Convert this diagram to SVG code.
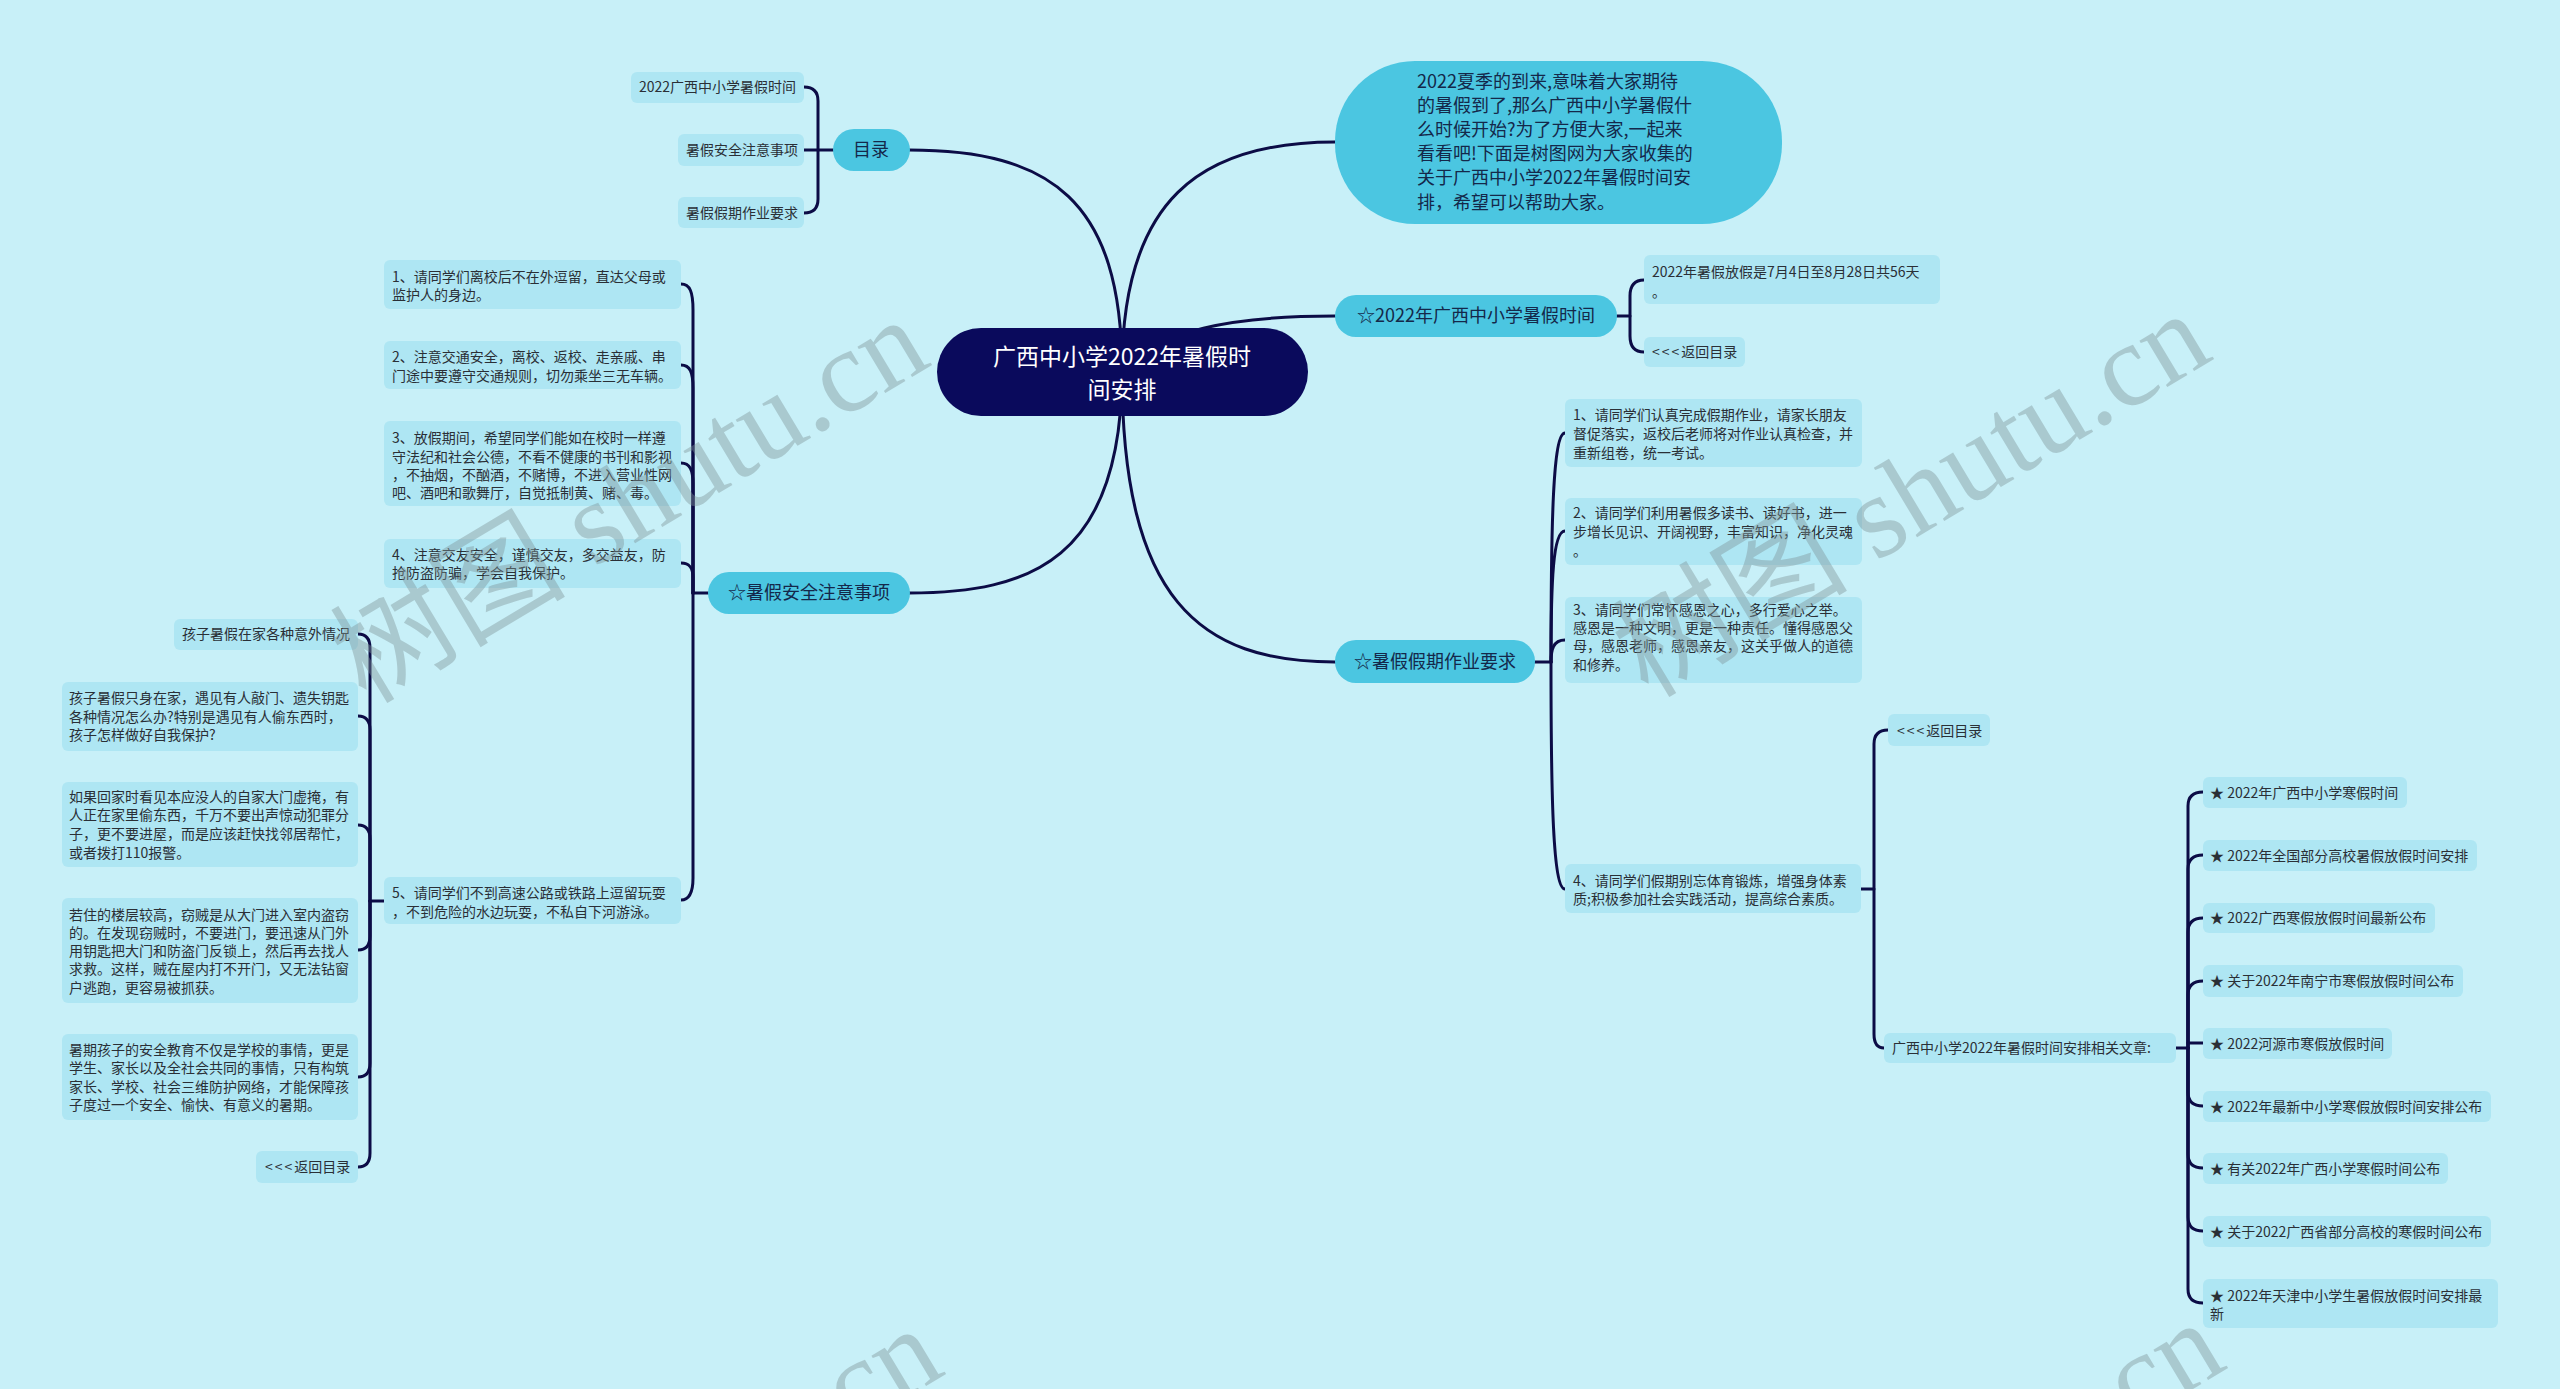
<svg xmlns="http://www.w3.org/2000/svg" width="2560" height="1389" viewBox="0 0 2560 1389">
<style>
.t{font-family:"Noto Sans CJK SC","Noto Sans",sans-serif}
.leaf{fill:#aee6f3}
.lt{font-size:14px;fill:#2a2f36}
.mid{fill:#4bc6e1}
.mt{font-size:18px;fill:#14284a}
.ln{stroke:#0c0c46;stroke-width:3;fill:none;stroke-linecap:round}
.ar{letter-spacing:2px}
.wm{font-family:"Liberation Serif","Noto Sans CJK SC",serif;font-size:118px;fill:#7f9599;opacity:0.42}
</style>
<rect x="0" y="0" width="2560" height="1389" fill="#c8f0f8"/>

<g id="connectors" class="ln">
  <path d="M1122,371 C1122,200 1050,150 909,150"/>
  <path d="M1122,371 C1122,200 1200,142 1335,142"/>
  <path d="M1122,371 C1160,330 1230,316 1335,316"/>
  <path d="M1122,371 C1122,560 1030,593 909,593"/>
  <path d="M1122,371 C1122,600 1200,662 1335,662"/>
  <path d="M833,150 L804,150"/>
  <path d="M804,87 Q818,87 818,101 L818,199 Q818,213 804,213"/>
  <path d="M1617,316 L1630,316"/>
  <path d="M1644,280 Q1630,280 1630,296 L1630,336 Q1630,352 1644,352"/>
  <path d="M708,593 L693,593"/>
  <path d="M681,284 C690,284 693,292 693,310 L693,593"/>
  <path d="M681,365 C690,365 693,372 693,388 L693,593"/>
  <path d="M681,463 C690,463 693,470 693,484 L693,593"/>
  <path d="M681,563 C690,563 693,568 693,578 L693,593"/>
  <path d="M681,900 C690,900 693,892 693,878 L693,593"/>
  <path d="M384,901 L370,901"/>
  <path d="M358,634 Q370,634 370,648 L370,901"/>
  <path d="M358,716 Q370,716 370,730 L370,901"/>
  <path d="M358,825 Q370,825 370,839 L370,901"/>
  <path d="M358,950 Q370,950 370,936 L370,901"/>
  <path d="M358,1077 Q370,1077 370,1063 L370,901"/>
  <path d="M358,1167 Q370,1167 370,1153 L370,901"/>
  <path d="M1535,662 L1551,662"/>
  <path d="M1551,662 C1551,520 1553,433 1565,433"/>
  <path d="M1551,662 C1551,580 1553,531 1565,531"/>
  <path d="M1551,662 C1551,650 1553,640 1565,640"/>
  <path d="M1551,662 C1551,800 1553,889 1565,889"/>
  <path d="M1861,889 L1874,889"/>
  <path d="M1888,730 Q1874,730 1874,744 L1874,1034 Q1874,1048 1884,1048"/>
  <path d="M2176,1048 L2188,1048"/>
  <path d="M2203,792 Q2188,792 2188,806 L2188,1048"/>
  <path d="M2203,855 Q2188,855 2188,869 L2188,1048"/>
  <path d="M2203,918 Q2188,918 2188,932 L2188,1048"/>
  <path d="M2203,981 Q2188,981 2188,995 L2188,1048"/>
  <path d="M2203,1043 L2188,1043"/>
  <path d="M2203,1106 Q2188,1106 2188,1092 L2188,1048"/>
  <path d="M2203,1168 Q2188,1168 2188,1154 L2188,1048"/>
  <path d="M2203,1231 Q2188,1231 2188,1217 L2188,1048"/>
  <path d="M2203,1303 Q2188,1303 2188,1289 L2188,1048"/>
</g>

<g id="central">
  <rect x="937" y="328" width="371" height="88" rx="44" fill="#0a0a5c"/>
  <text class="t" x="1122" y="365" font-size="23" fill="#ffffff" text-anchor="middle">广西中小学2022年暑假时</text>
  <text class="t" x="1122" y="398" font-size="23" fill="#ffffff" text-anchor="middle">间安排</text>
</g>

<g id="summary">
  <rect x="1335" y="61" width="447" height="163" rx="80" class="mid"/>
  <text class="t" font-size="18" fill="#14284a">
    <tspan x="1417" y="88">2022夏季的到来,意味着大家期待</tspan>
    <tspan x="1417" y="112">的暑假到了,那么广西中小学暑假什</tspan>
    <tspan x="1417" y="136">么时候开始?为了方便大家,一起来</tspan>
    <tspan x="1417" y="160">看看吧!下面是树图网为大家收集的</tspan>
    <tspan x="1417" y="184">关于广西中小学2022年暑假时间安</tspan>
    <tspan x="1417" y="209">排，希望可以帮助大家。</tspan>
  </text>
</g>

<g id="mulu">
  <rect x="833" y="129" width="77" height="42" rx="21" class="mid"/>
  <text class="t mt" x="871" y="156" text-anchor="middle">目录</text>
</g>
<g id="mulu-1">
  <rect x="631" y="72" width="173" height="31" rx="6" class="leaf"/>
  <text class="t lt" x="639" y="92">2022广西中小学暑假时间</text>
</g>
<g id="mulu-2">
  <rect x="678" y="134" width="126" height="32" rx="6" class="leaf"/>
  <text class="t lt" x="686" y="155">暑假安全注意事项</text>
</g>
<g id="mulu-3">
  <rect x="678" y="197" width="126" height="31" rx="6" class="leaf"/>
  <text class="t lt" x="686" y="218">暑假假期作业要求</text>
</g>

<g id="time">
  <rect x="1335" y="295" width="282" height="42" rx="21" class="mid"/>
  <text class="t mt" x="1476" y="322" text-anchor="middle">☆2022年广西中小学暑假时间</text>
</g>
<g id="time-1">
  <rect x="1644" y="255" width="296" height="49" rx="6" class="leaf"/>
  <text class="t lt"><tspan x="1652" y="277">2022年暑假放假是7月4日至8月28日共56天</tspan><tspan x="1652" y="297">。</tspan></text>
</g>
<g id="time-2">
  <rect x="1644" y="337" width="101" height="30" rx="6" class="leaf"/>
  <text class="t lt" x="1652" y="357"><tspan class="ar">&lt;&lt;&lt;</tspan>返回目录</text>
</g>

<g id="safety">
  <rect x="708" y="572" width="202" height="42" rx="21" class="mid"/>
  <text class="t mt" x="809" y="599" text-anchor="middle">☆暑假安全注意事项</text>
</g>
<g id="safety-1">
  <rect x="384" y="260" width="297" height="49" rx="6" class="leaf"/>
  <text class="t lt"><tspan x="392" y="282">1、请同学们离校后不在外逗留，直达父母或</tspan><tspan x="392" y="300">监护人的身边。</tspan></text>
</g>
<g id="safety-2">
  <rect x="384" y="341" width="297" height="48" rx="6" class="leaf"/>
  <text class="t lt"><tspan x="392" y="362">2、注意交通安全，离校、返校、走亲戚、串</tspan><tspan x="392" y="381">门途中要遵守交通规则，切勿乘坐三无车辆。</tspan></text>
</g>
<g id="safety-3">
  <rect x="384" y="421" width="297" height="85" rx="6" class="leaf"/>
  <text class="t lt"><tspan x="392" y="443">3、放假期间，希望同学们能如在校时一样遵</tspan><tspan x="392" y="462">守法纪和社会公德，不看不健康的书刊和影视</tspan><tspan x="392" y="480">，不抽烟，不酗酒，不赌博，不进入营业性网</tspan><tspan x="392" y="498">吧、酒吧和歌舞厅，自觉抵制黄、赌、毒。</tspan></text>
</g>
<g id="safety-4">
  <rect x="384" y="539" width="297" height="49" rx="6" class="leaf"/>
  <text class="t lt"><tspan x="392" y="560">4、注意交友安全，谨慎交友，多交益友，防</tspan><tspan x="392" y="578">抢防盗防骗，学会自我保护。</tspan></text>
</g>
<g id="safety-5">
  <rect x="384" y="877" width="297" height="47" rx="6" class="leaf"/>
  <text class="t lt"><tspan x="392" y="898">5、请同学们不到高速公路或铁路上逗留玩耍</tspan><tspan x="392" y="917">，不到危险的水边玩耍，不私自下河游泳。</tspan></text>
</g>
<g id="s5-a">
  <rect x="174" y="619" width="184" height="31" rx="6" class="leaf"/>
  <text class="t lt" x="182" y="639">孩子暑假在家各种意外情况</text>
</g>
<g id="s5-b">
  <rect x="62" y="682" width="296" height="69" rx="6" class="leaf"/>
  <text class="t lt"><tspan x="69" y="703">孩子暑假只身在家，遇见有人敲门、遗失钥匙</tspan><tspan x="69" y="722">各种情况怎么办?特别是遇见有人偷东西时，</tspan><tspan x="69" y="740">孩子怎样做好自我保护?</tspan></text>
</g>
<g id="s5-c">
  <rect x="62" y="782" width="296" height="85" rx="6" class="leaf"/>
  <text class="t lt"><tspan x="69" y="802">如果回家时看见本应没人的自家大门虚掩，有</tspan><tspan x="69" y="820">人正在家里偷东西，千万不要出声惊动犯罪分</tspan><tspan x="69" y="839">子，更不要进屋，而是应该赶快找邻居帮忙，</tspan><tspan x="69" y="858">或者拨打110报警。</tspan></text>
</g>
<g id="s5-d">
  <rect x="62" y="898" width="296" height="105" rx="6" class="leaf"/>
  <text class="t lt"><tspan x="69" y="920">若住的楼层较高，窃贼是从大门进入室内盗窃</tspan><tspan x="69" y="938">的。在发现窃贼时，不要进门，要迅速从门外</tspan><tspan x="69" y="956">用钥匙把大门和防盗门反锁上，然后再去找人</tspan><tspan x="69" y="974">求救。这样，贼在屋内打不开门，又无法钻窗</tspan><tspan x="69" y="993">户逃跑，更容易被抓获。</tspan></text>
</g>
<g id="s5-e">
  <rect x="62" y="1034" width="296" height="86" rx="6" class="leaf"/>
  <text class="t lt"><tspan x="69" y="1055">暑期孩子的安全教育不仅是学校的事情，更是</tspan><tspan x="69" y="1073">学生、家长以及全社会共同的事情，只有构筑</tspan><tspan x="69" y="1092">家长、学校、社会三维防护网络，才能保障孩</tspan><tspan x="69" y="1110">子度过一个安全、愉快、有意义的暑期。</tspan></text>
</g>
<g id="s5-f">
  <rect x="256" y="1151" width="102" height="32" rx="6" class="leaf"/>
  <text class="t lt" x="265" y="1172"><tspan class="ar">&lt;&lt;&lt;</tspan>返回目录</text>
</g>

<g id="homework">
  <rect x="1335" y="640" width="200" height="43" rx="21" class="mid"/>
  <text class="t mt" x="1435" y="668" text-anchor="middle">☆暑假假期作业要求</text>
</g>
<g id="hw-1">
  <rect x="1565" y="399" width="297" height="68" rx="6" class="leaf"/>
  <text class="t lt"><tspan x="1573" y="420">1、请同学们认真完成假期作业，请家长朋友</tspan><tspan x="1573" y="439">督促落实，返校后老师将对作业认真检查，并</tspan><tspan x="1573" y="458">重新组卷，统一考试。</tspan></text>
</g>
<g id="hw-2">
  <rect x="1565" y="498" width="297" height="67" rx="6" class="leaf"/>
  <text class="t lt"><tspan x="1573" y="518">2、请同学们利用暑假多读书、读好书，进一</tspan><tspan x="1573" y="537">步增长见识、开阔视野，丰富知识，净化灵魂</tspan><tspan x="1573" y="556">。</tspan></text>
</g>
<g id="hw-3">
  <rect x="1565" y="597" width="297" height="86" rx="6" class="leaf"/>
  <text class="t lt"><tspan x="1573" y="615">3、请同学们常怀感恩之心，多行爱心之举。</tspan><tspan x="1573" y="633">感恩是一种文明，更是一种责任。懂得感恩父</tspan><tspan x="1573" y="651">母，感恩老师，感恩亲友，这关乎做人的道德</tspan><tspan x="1573" y="670">和修养。</tspan></text>
</g>
<g id="hw-4">
  <rect x="1565" y="864" width="296" height="49" rx="6" class="leaf"/>
  <text class="t lt"><tspan x="1573" y="886">4、请同学们假期别忘体育锻炼，增强身体素</tspan><tspan x="1573" y="904">质;积极参加社会实践活动，提高综合素质。</tspan></text>
</g>
<g id="hw4-back">
  <rect x="1888" y="714" width="102" height="32" rx="6" class="leaf"/>
  <text class="t lt" x="1897" y="736"><tspan class="ar">&lt;&lt;&lt;</tspan>返回目录</text>
</g>
<g id="hw4-related">
  <rect x="1884" y="1033" width="292" height="30" rx="6" class="leaf"/>
  <text class="t lt" x="1892" y="1053">广西中小学2022年暑假时间安排相关文章:</text>
</g>

<g id="art-1"><rect x="2203" y="777" width="204" height="31" rx="6" class="leaf"/><text class="t lt" x="2210" y="798">★ 2022年广西中小学寒假时间</text></g>
<g id="art-2"><rect x="2203" y="840" width="274" height="31" rx="6" class="leaf"/><text class="t lt" x="2210" y="861">★ 2022年全国部分高校暑假放假时间安排</text></g>
<g id="art-3"><rect x="2203" y="903" width="232" height="30" rx="6" class="leaf"/><text class="t lt" x="2210" y="923">★ 2022广西寒假放假时间最新公布</text></g>
<g id="art-4"><rect x="2203" y="965" width="260" height="32" rx="6" class="leaf"/><text class="t lt" x="2210" y="986">★ 关于2022年南宁市寒假放假时间公布</text></g>
<g id="art-5"><rect x="2203" y="1028" width="189" height="31" rx="6" class="leaf"/><text class="t lt" x="2210" y="1049">★ 2022河源市寒假放假时间</text></g>
<g id="art-6"><rect x="2203" y="1091" width="288" height="31" rx="6" class="leaf"/><text class="t lt" x="2210" y="1112">★ 2022年最新中小学寒假放假时间安排公布</text></g>
<g id="art-7"><rect x="2203" y="1153" width="245" height="31" rx="6" class="leaf"/><text class="t lt" x="2210" y="1174">★ 有关2022年广西小学寒假时间公布</text></g>
<g id="art-8"><rect x="2203" y="1216" width="288" height="31" rx="6" class="leaf"/><text class="t lt" x="2210" y="1237">★ 关于2022广西省部分高校的寒假时间公布</text></g>
<g id="art-9"><rect x="2203" y="1279" width="295" height="49" rx="6" class="leaf"/><text class="t lt"><tspan x="2210" y="1301">★ 2022年天津中小学生暑假放假时间安排最</tspan><tspan x="2210" y="1319">新</tspan></text></g>

<g id="watermark">
  <text class="wm" transform="translate(366,705) rotate(-31)">树图 shutu.cn</text>
  <text class="wm" transform="translate(1648,699) rotate(-31)">树图 shutu.cn</text>
  <text class="wm" transform="translate(380,1714) rotate(-31)">树图 shutu.cn</text>
  <text class="wm" transform="translate(1662,1708) rotate(-31)">树图 shutu.cn</text>
</g>
</svg>
